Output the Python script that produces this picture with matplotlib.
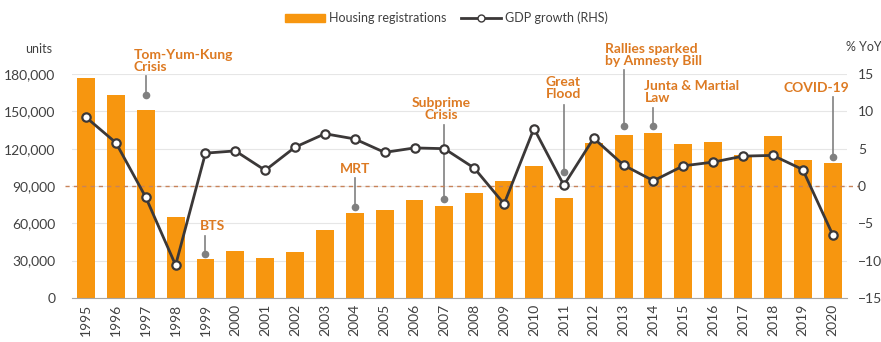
import numpy as np
import matplotlib.pyplot as plt
from matplotlib.lines import Line2D
from matplotlib.patches import Patch

plt.rcParams['font.family'] = ['Lato', 'DejaVu Sans']

years = [str(y) for y in range(1995, 2021)]
housing = [177000, 163000, 151000, 65000, 31000, 37500, 32000, 36700, 54600,
           68000, 70700, 78700, 74200, 84100, 94000, 106000, 80600, 124300,
           131000, 132800, 123500, 125400, 115000, 130200, 110900, 108200]
gdp = [9.2, 5.8, -1.5, -10.6, 4.4, 4.7, 2.1, 5.2, 7.0, 6.3, 4.5, 5.1, 5.0,
       2.4, -2.4, 7.7, 0.1, 6.4, 2.8, 0.7, 2.7, 3.2, 4.0, 4.1, 2.2, -6.5]

# annotations: (year, label, text x, align, text bottom, leader top, dot)
events = [
    ('1997', 'Tom-Yum-Kung\nCrisis', 1.6, 'left', 180800, 178400, 163100),
    ('1999', 'BTS', 4.25, 'center', 53000, 49800, 35400),
    ('2004', 'MRT', 9.0, 'center', 98800, 96400, 73100),
    ('2007', 'Subprime\nCrisis', 11.9, 'center', 142200, 139000, 79600),
    ('2011', 'Great\nFlood', 15.98, 'center', 159100, 155100, 101300),
    ('2013', 'Rallies sparked\nby Amnesty Bill', 17.37, 'left', 185600, 183200, 138200),
    ('2014', 'Junta & Martial\nLaw', 18.7, 'left', 155900, 152700, 138200),
    ('2020', 'COVID-19', 24.45, 'center', 164000, 161500, 113300),
]

bar_color = '#F7960F'
line_color = '#3B3838'
note_color = '#DD7A22'
tick_color = '#404040'

x = np.arange(len(years))

fig = plt.figure(figsize=(8.81, 3.42), dpi=100)
ax = fig.add_axes([0.0817, 0.1287, 0.8793, 0.6549])
ax2 = ax.twinx()

ax.bar(x, housing, width=0.6, color=bar_color, zorder=2)
ax.set_ylim(0, 180000)
ax.set_yticks(range(0, 180001, 30000))
ax.set_yticklabels([f'{v:,}' for v in range(0, 180001, 30000)])
ax.set_xlim(-0.47, len(years) - 0.53)
ax.set_xticks(x)
ax.set_xticklabels(years, rotation=90)
ax.grid(axis='y', color='#E6E6E6', linewidth=0.8, zorder=0)
ax.set_axisbelow(True)

ax2.plot(x, gdp, color=line_color, linewidth=2, marker='o', markersize=6,
         markerfacecolor='white', markeredgecolor=line_color,
         markeredgewidth=1.6, zorder=5)
ax2.set_ylim(-15, 15)
ax2.set_yticks(range(-15, 16, 5))
# zero line runs a little past the plot area on both sides
ax2.plot([-0.7, len(years) - 0.1], [0, 0], color='#C8835A',
         linestyle=(0, (3, 3)), linewidth=1, zorder=1, clip_on=False)
ax2.set_xlim(-0.47, len(years) - 0.53)

for a in (ax, ax2):
    for s in ['top', 'left', 'right', 'bottom']:
        a.spines[s].set_visible(False)
    a.tick_params(length=0, labelsize=10, colors=tick_color)
ax.spines['bottom'].set_visible(True)
ax.spines['bottom'].set_color('#A6A6A6')
ax.tick_params(axis='y', pad=12)
ax2.tick_params(axis='y', pad=8)
ax.tick_params(axis='x', pad=4)

for year, label, tx, ha, tb, lt, dot in events:
    xi = years.index(year)
    ax.text(tx, tb, label, ha=ha, va='bottom', color=note_color,
            fontsize=10, fontweight='bold', linespacing=1.0, clip_on=False,
            zorder=6)
    ax.plot([xi, xi], [dot, lt], color='#808080', linewidth=1.2,
            clip_on=False, zorder=6)
    ax.plot([xi], [dot], 'o', color='#808080', markersize=4.5,
            clip_on=False, zorder=6)

fig.text(0.059, 0.858, 'units', ha='right', va='center', fontsize=9,
         color=tick_color)
fig.text(0.96, 0.862, '% YoY', ha='left', va='center', fontsize=9,
         color=tick_color)

handles = [Patch(color=bar_color),
           Line2D([], [], color=line_color, linewidth=2, marker='o',
                  markersize=5, markerfacecolor='white',
                  markeredgecolor=line_color)]
fig.legend(handles, ['Housing registrations', 'GDP growth (RHS)'],
           loc='center', bbox_to_anchor=(0.507, 0.947), ncol=2, frameon=False,
           fontsize=9, handlelength=3.2, handleheight=0.5, columnspacing=1.2,
           handletextpad=0.3, labelcolor=tick_color)

fig.savefig('out.png', dpi=100)
